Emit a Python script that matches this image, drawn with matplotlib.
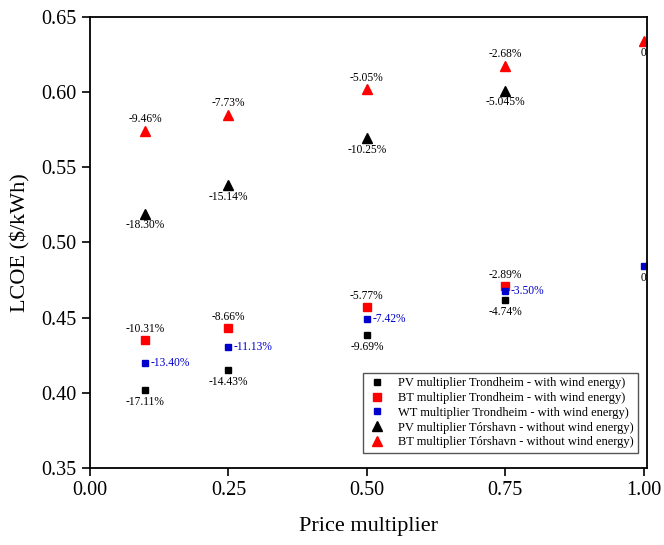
import matplotlib.pyplot as plt

plt.rcParams["font.family"] = ["Liberation Serif", "DejaVu Serif"]

# price multipliers
mult = [0.10, 0.25, 0.50, 0.75]
mult_base = [0.10, 0.25, 0.50, 0.75, 1.00]

# LCOE values ($/kWh)
pv_trd = [0.4018, 0.4150, 0.4384, 0.4617]
bt_trd = [0.4350, 0.4430, 0.4570, 0.4710]
wt_trd = [0.4200, 0.4305, 0.4490, 0.4677, 0.4843]
pv_tor = [0.5190, 0.5380, 0.5695, 0.6010]
bt_tor = [0.5745, 0.5850, 0.6020, 0.6175, 0.6340]

# percentage change labels
pv_trd_lab = ["-17.11%", "-14.43%", "-9.69%", "-4.74%"]
bt_trd_lab = ["-10.31%", "-8.66%", "-5.77%", "-2.89%"]
wt_trd_lab = ["-13.40%", "-11.13%", "-7.42%", "-3.50%", "0"]
pv_tor_lab = ["-18.30%", "-15.14%", "-10.25%", "-5.045%"]
bt_tor_lab = ["-9.46%", "-7.73%", "-5.05%", "-2.68%", "0"]

red = "#FF0000"
blue = "#0000CC"

fig = plt.figure(figsize=(6.64, 5.45), dpi=100)
ax = fig.add_axes([0.1355, 0.1413, 0.839, 0.8275])

ax.plot(mult, pv_trd, "s", color="black", markersize=4, linestyle="none",
        label="PV multiplier Trondheim - with wind energy)")
ax.plot(mult, bt_trd, "s", color=red, markersize=6, linestyle="none",
        label="BT multiplier Trondheim - with wind energy)")
ax.plot(mult_base, wt_trd, "s", color=blue, markersize=4, linestyle="none",
        label="WT multiplier Trondheim - with wind energy)")
ax.plot(mult, pv_tor, "^", color="black", markersize=6.5, linestyle="none",
        label="PV multiplier Tórshavn - without wind energy)")
ax.plot(mult_base, bt_tor, "^", color=red, markersize=6.5, linestyle="none",
        label="BT multiplier Tórshavn - without wind energy)")

fs = 8.3
# labels below
for x, y, t in zip(mult, pv_trd, pv_trd_lab):
    ax.annotate(t, (x, y), xytext=(0, -4), textcoords="offset points",
                ha="center", va="top", fontsize=fs)
for x, y, t in zip(mult, pv_tor, pv_tor_lab):
    ax.annotate(t, (x, y), xytext=(0, -4), textcoords="offset points",
                ha="center", va="top", fontsize=fs)
# labels above
for x, y, t in zip(mult, bt_trd, bt_trd_lab):
    ax.annotate(t, (x, y), xytext=(0, 4), textcoords="offset points",
                ha="center", va="bottom", fontsize=fs)
for x, y, t in zip(mult_base[:4], bt_tor[:4], bt_tor_lab[:4]):
    ax.annotate(t, (x, y), xytext=(0, 4), textcoords="offset points",
                ha="center", va="bottom", fontsize=fs)
# blue labels to the right
for x, y, t in zip(mult_base[:4], wt_trd[:4], wt_trd_lab[:4]):
    ax.annotate(t, (x, y), xytext=(4, 0), textcoords="offset points",
                ha="left", va="center", fontsize=fs, color=blue)
# base case "0" labels
ax.annotate(wt_trd_lab[4], (mult_base[4], wt_trd[4]), xytext=(0, -4),
            textcoords="offset points", ha="center", va="top", fontsize=fs)
ax.annotate(bt_tor_lab[4], (mult_base[4], bt_tor[4]), xytext=(0, -4),
            textcoords="offset points", ha="center", va="top", fontsize=fs)

ax.set_xlim(0, 1.006)
ax.set_ylim(0.35, 0.65)
ax.set_xticks([0.0, 0.25, 0.5, 0.75, 1.0])
ax.set_xticklabels(["0.00", "0.25", "0.50", "0.75", "1.00"])
ax.set_yticks([0.35, 0.40, 0.45, 0.50, 0.55, 0.60, 0.65])
ax.set_yticklabels(["0.35", "0.40", "0.45", "0.50", "0.55", "0.60", "0.65"])
ax.tick_params(direction="out", length=6, width=1.2, labelsize=14.5)
for s in ax.spines.values():
    s.set_linewidth(1.3)

ax.set_xlabel("Price multiplier", fontsize=16, labelpad=12)
ax.set_ylabel("LCOE (\\$/kWh)", fontsize=16, labelpad=8)

ax.legend(loc="lower right", bbox_to_anchor=(0.9955, 0.02), fontsize=9,
          frameon=True, fancybox=False, edgecolor="#555555", framealpha=1,
          handletextpad=0.9, borderpad=0.35, labelspacing=0.22, handlelength=1.6)

plt.savefig("out.png")
